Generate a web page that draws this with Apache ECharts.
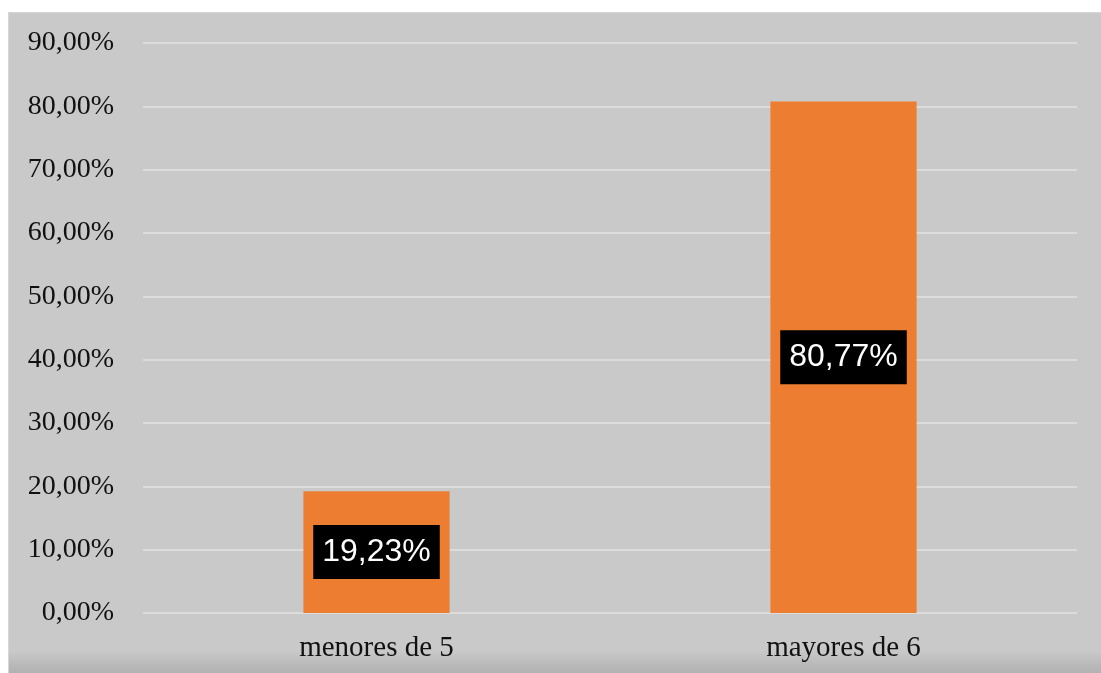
<!DOCTYPE html>
<html>
<head>
<meta charset="utf-8">
<script src="https://cdn.jsdelivr.net/npm/echarts@6/dist/echarts.min.js"></script>
<style>
  html, body { margin: 0; padding: 0; background: #ffffff; }
  #frame {
    position: absolute; left: 8px; top: 12px; width: 1093px; height: 661px;
    background: linear-gradient(to bottom, #c9c9c9 0px, #c9c9c9 638px, #c3c3c3 643px, #b9b9b9 652px, #b0b0b0 661px);
    border-top: 1px solid #d6d6d6; border-left: 1px solid #d6d6d6; box-sizing: border-box;
  }
  #chart { position: absolute; left: 0; top: 0; width: 1093px; height: 661px; }
</style>
</head>
<body>
<div id="frame"><div id="chart"></div></div>
<script>
// Share of children by age group
const categories = ['menores de 5', 'mayores de 6'];
const shares = [19.23, 80.77];
const yTicksMax = 90;
const yTickStep = 10;

const fmt = v => v.toFixed(2).replace('.', ',') + '%';

const chart = echarts.init(document.getElementById('chart'), null, { renderer: 'canvas' });
chart.setOption({
  animation: false,
  grid: { left: 134, right: 25, top: 30, bottom: 61 },
  xAxis: {
    type: 'category',
    data: categories,
    axisLine: { show: false },
    axisTick: { show: false },
    axisLabel: {
      fontFamily: 'Liberation Serif', fontSize: 29, color: '#111111', margin: 21
    }
  },
  yAxis: {
    type: 'value',
    min: 0, max: yTicksMax, interval: yTickStep,
    axisLine: { show: false },
    axisTick: { show: false },
    splitLine: { lineStyle: { color: '#dcdcdc', width: 2 } },
    axisLabel: {
      fontFamily: 'Liberation Serif', fontSize: 28, color: '#111111', margin: 29,
      formatter: v => fmt(v)
    }
  },
  series: [{
    type: 'bar',
    data: shares,
    barWidth: '31.3%',
    itemStyle: { color: '#ED7D31' },
    label: {
      show: true,
      position: 'inside',
      formatter: p => fmt(p.value),
      fontFamily: 'Liberation Sans', fontSize: 32, color: '#ffffff',
      backgroundColor: '#000000',
      padding: [10, 9, 9, 9],
      lineHeight: 35
    }
  }]
});
</script>
</body>
</html>
